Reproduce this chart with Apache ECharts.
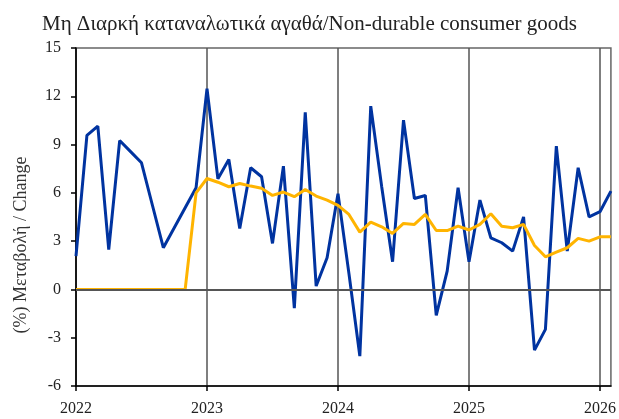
<!DOCTYPE html>
<html>
<head>
<meta charset="utf-8">
<script src="https://cdn.jsdelivr.net/npm/echarts@6/dist/echarts.min.js"></script>
<style>
  html, body { margin: 0; padding: 0; background: #fff; }
  #chart { width: 619px; height: 419px; }
</style>
</head>
<body>
<div id="chart"></div>
<script>
// monthly, Jan 2022 .. Feb 2026
const years = ['2022', '2023', '2024', '2025', '2026']
const months = []
years.forEach(y => {
  for (let m = 1; m <= 12; m++) {
    if (y === '2026' && m > 2) break
    months.push(y + '-' + String(m).padStart(2, '0'))
  }
})

const monthly = [
  2.07, 9.57, 10.14, 2.48, 9.25, 8.56, 7.87, 5.23, 2.59, 3.83, 5.08, 6.32,
  12.47, 6.87, 8.07, 3.79, 7.56, 7.0, 2.86, 7.66, -1.16, 11.01, 0.21, 1.97,
  5.95, 1.0, -4.14, 11.39, 6.4, 1.72, 10.52, 5.65, 5.84, -1.61, 1.14, 6.32,
  1.72, 5.55, 3.21, 2.9, 2.38, 4.51, -3.77, -2.48, 8.9, 2.38, 7.56, 4.51,
  4.83, 6.11
]

const trend = [
  0, 0, 0, 0, 0, 0, 0, 0, 0, 0, 0, 6.0,
  6.89, 6.66, 6.38, 6.58, 6.42, 6.29, 5.84, 6.05, 5.76, 6.21, 5.8, 5.55,
  5.22, 4.66, 3.56, 4.18, 3.89, 3.48, 4.1, 4.04, 4.66, 3.66, 3.66, 3.93,
  3.69, 4.04, 4.7, 3.93, 3.83, 4.04, 2.73, 2.03, 2.32, 2.59, 3.17, 3.0,
  3.27, 3.27
]

const serif = "'Liberation Serif', 'DejaVu Serif', serif"
const isJan = (i) => i % 12 === 0

const chart = echarts.init(document.getElementById('chart'))

chart.setOption({
  animation: false,
  title: {
    text: 'Μη Διαρκή καταναλωτικά αγαθά/Non-durable consumer goods',
    left: 'center',
    top: 9,
    textStyle: { fontFamily: serif, fontSize: 21, fontWeight: 'normal', color: '#222' }
  },
  grid: {
    left: 76, right: 1, top: 48, bottom: 33,
    show: true, borderColor: '#666', borderWidth: 1.5
  },
  graphic: [{
    type: 'text',
    x: 21, y: 245,
    rotation: Math.PI / 2,
    style: {
      text: '(%) Μεταβολή / Change',
      fontFamily: serif, fontSize: 18, fill: '#333',
      textAlign: 'center', textVerticalAlign: 'middle'
    }
  }],
  xAxis: {
    type: 'category',
    data: months,
    boundaryGap: false,
    axisLine: { onZero: false, lineStyle: { color: '#000', width: 1.5 } },
    axisTick: { interval: isJan, length: 5, lineStyle: { color: '#000', width: 1.5 } },
    axisLabel: {
      interval: isJan, margin: 15,
      formatter: v => v.slice(0, 4),
      fontFamily: serif, fontSize: 16, color: '#222'
    },
    splitLine: { show: true, interval: isJan, lineStyle: { color: '#555', width: 1.5 } }
  },
  yAxis: {
    type: 'value',
    min: -6, max: 15, interval: 3,
    axisLine: { show: true, lineStyle: { color: '#000', width: 1.5 } },
    axisTick: { show: true, length: 5, lineStyle: { color: '#000', width: 1.5 } },
    axisLabel: { margin: 15, fontFamily: serif, fontSize: 16, color: '#222' },
    splitLine: { show: false }
  },
  series: [
    {
      // zero line only
      type: 'line', data: [], silent: true, z: 1,
      markLine: {
        silent: true, symbol: 'none', label: { show: false },
        lineStyle: { color: '#555', width: 2, type: 'solid' },
        data: [{ yAxis: 0 }]
      }
    },
    {
      type: 'line', data: monthly, z: 3,
      symbol: 'none',
      lineStyle: { color: '#0033a0', width: 3 }
    },
    {
      type: 'line', data: trend, z: 4,
      symbol: 'none',
      lineStyle: { color: '#ffb400', width: 3 }
    }
  ]
})
</script>
</body>
</html>
